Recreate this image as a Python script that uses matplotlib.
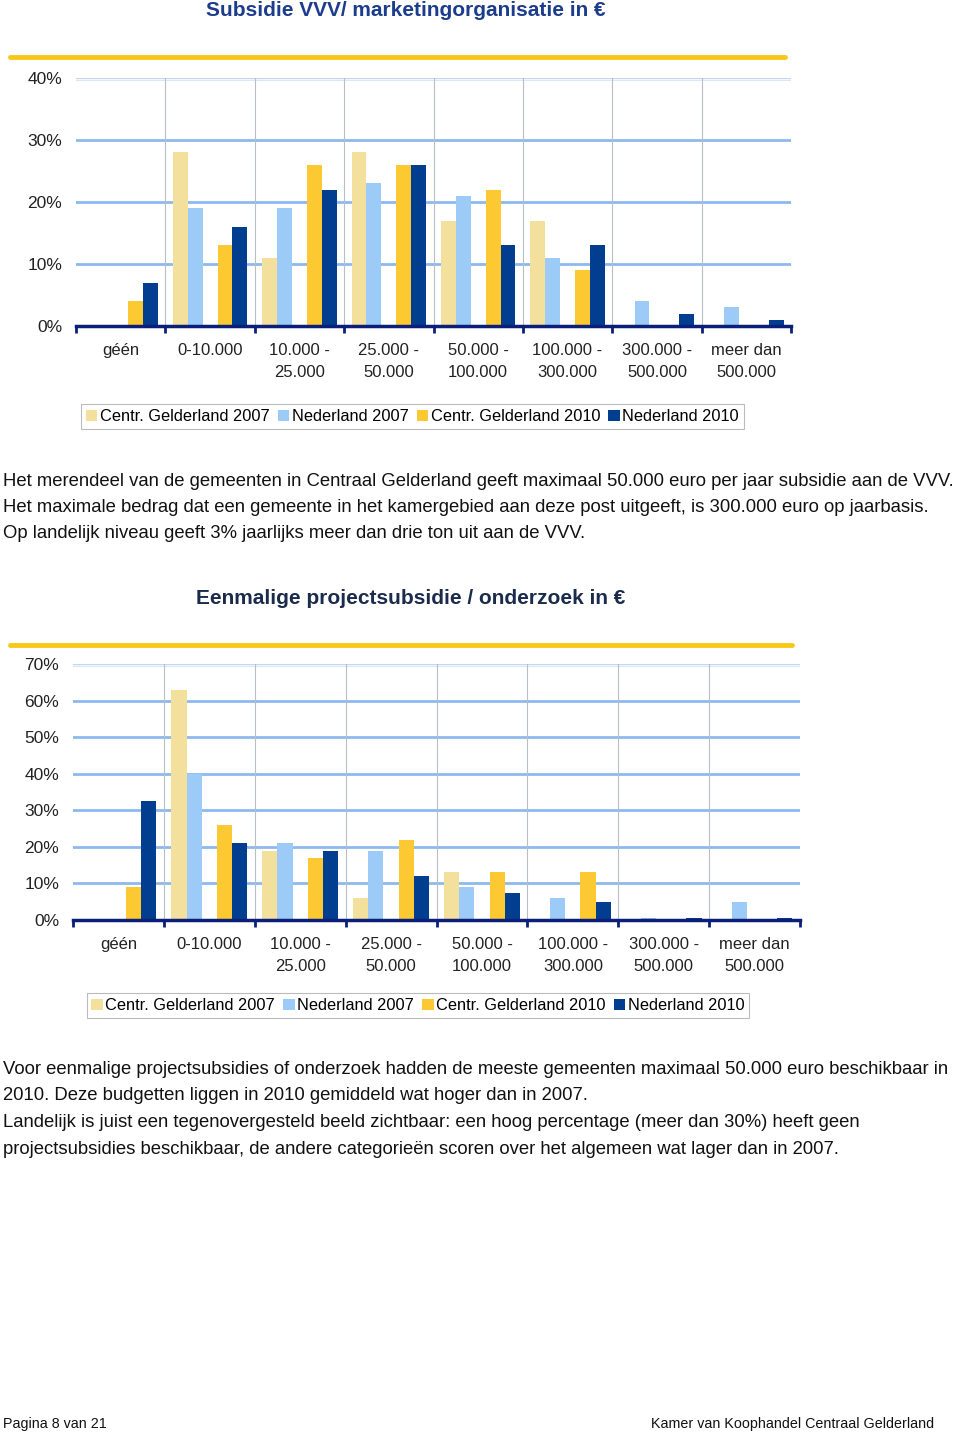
import matplotlib.pyplot as plt
import numpy as np
from matplotlib.patches import Patch

plt.rcParams['font.family'] = ['Liberation Sans', 'DejaVu Sans']

W, H = 960, 1435

categories = ['géén', '0-10.000', '10.000 -\n25.000', '25.000 -\n50.000',
              '50.000 -\n100.000', '100.000 -\n300.000', '300.000 -\n500.000',
              'meer dan\n500.000']
series = ['Centr. Gelderland 2007', 'Nederland 2007', 'Centr. Gelderland 2010', 'Nederland 2010']
colors = ['#F2E09C', '#9CCBF7', '#FDC933', '#023E8F']

# subsidie VVV (%)
vvv_cg07 = [0, 28, 11, 28, 17, 17, 0, 0]
vvv_nl07 = [0, 19, 19, 23, 21, 11, 4, 3]
vvv_cg10 = [4, 13, 26, 26, 22, 9, 0, 0]
vvv_nl10 = [7, 16, 22, 26, 13, 13, 2, 1]

# eenmalige projectsubsidie (%)
proj_cg07 = [0, 63, 19, 6, 13, 0, 0, 0]
proj_nl07 = [0, 40, 21, 19, 9, 6, 0.5, 5]
proj_cg10 = [9, 26, 17, 22, 13, 13, 0, 0]
proj_nl10 = [32.5, 21, 19, 12, 7.5, 5, 0.5, 0.5]

text1 = ["Het merendeel van de gemeenten in Centraal Gelderland geeft maximaal 50.000 euro per jaar subsidie aan de VVV.",
         "Het maximale bedrag dat een gemeente in het kamergebied aan deze post uitgeeft, is 300.000 euro op jaarbasis.",
         "Op landelijk niveau geeft 3% jaarlijks meer dan drie ton uit aan de VVV."]
text2 = ["Voor eenmalige projectsubsidies of onderzoek hadden de meeste gemeenten maximaal 50.000 euro beschikbaar in",
         "2010. Deze budgetten liggen in 2010 gemiddeld wat hoger dan in 2007.",
         "Landelijk is juist een tegenovergesteld beeld zichtbaar: een hoog percentage (meer dan 30%) heeft geen",
         "projectsubsidies beschikbaar, de andere categorieën scoren over het algemeen wat lager dan in 2007."]

fig = plt.figure(figsize=(W / 100, H / 100), dpi=100)


def px(x, y):
    return x / W, 1 - y / H


def chart(left, right, top, bottom, ymax, step, data, title, title_xy, title_color,
          line_y, line_x2, legend_box):
    ax = fig.add_axes([left / W, 1 - bottom / H, (right - left) / W, (bottom - top) / H])
    x = np.arange(len(categories))
    offs = [-2 / 6, -1 / 6, 1 / 6, 2 / 6]
    handles = []
    for vals, off, c, lab in zip(data, offs, colors, series):
        ax.bar(x + off, vals, width=1 / 6, color=c, zorder=3, linewidth=0)
        handles.append(Patch(facecolor=c, label=lab))
    ax.set_xlim(-0.5, len(categories) - 0.5)
    ax.set_ylim(0, ymax)
    ticks = np.arange(0, ymax + 0.1, step)
    ax.set_yticks(ticks)
    ax.set_yticklabels(['%d%%' % t for t in ticks], fontsize=12.5, color='#222222')
    for t in ticks[1:-1]:
        ax.axhline(t, color='#8DB9EC', lw=2, zorder=1)
    ax.axhline(ymax, color='#BFD7F2', lw=1, zorder=1)
    ax.axhline(ymax * 0.993, color='#D9E7F7', lw=0.8, zorder=1)
    for b in np.arange(0.5, len(categories) - 1):
        ax.axvline(b, color='#B8BEC8', lw=0.8, zorder=2)
    ax.set_xticks(np.arange(-0.5, len(categories)))
    ax.set_xticklabels([])
    ax.set_xticks(x, minor=True)
    ax.set_xticklabels(categories, minor=True, fontsize=12, color='#222222', linespacing=1.6)
    ax.tick_params(axis='x', which='major', length=5, width=2, color='#0B1F7A', direction='out')
    ax.tick_params(axis='x', which='minor', length=0, pad=12)
    ax.tick_params(axis='y', length=0, pad=10)
    for s in ['top', 'right', 'left']:
        ax.spines[s].set_visible(False)
    ax.spines['bottom'].set_color('#0B1F7A')
    ax.spines['bottom'].set_linewidth(2.5)
    ax.spines['bottom'].set_zorder(4)

    fig.text(*px(*title_xy), title, ha='center', va='center', fontsize=15,
             fontweight='bold', color=title_color)
    fig.add_artist(plt.Line2D([10 / W, line_x2 / W], [1 - line_y / H] * 2,
                              color='#F7C818', lw=3.5, solid_capstyle='round'))
    lx0, ly0, lx1, ly1 = legend_box
    leg = fig.legend(handles=handles, loc='center', ncol=4,
                     bbox_to_anchor=((lx0 + lx1) / 2 / W, 1 - (ly0 + ly1) / 2 / H),
                     fontsize=11.8, frameon=True, fancybox=False, edgecolor='#AAAAAA',
                     handlelength=0.7, handleheight=0.7, handletextpad=0.15,
                     columnspacing=0.5, borderpad=0.3, borderaxespad=0)
    leg.get_frame().set_linewidth(0.8)
    return ax


chart(76, 791, 78, 326, 40, 10, [vvv_cg07, vvv_nl07, vvv_cg10, vvv_nl10],
      'Subsidie VVV/ marketingorganisatie in €', (406, 11), '#1C3C8C',
      57, 785, (80, 403, 745, 430))

chart(73, 800, 664, 920, 70, 10, [proj_cg07, proj_nl07, proj_cg10, proj_nl10],
      'Eenmalige projectsubsidie / onderzoek in €', (411, 598), '#1A2B4C',
      645, 792, (85, 992, 751, 1019))

for i, line in enumerate(text1):
    fig.text(*px(3, 481 + i * 26.5), line, ha='left', va='center', fontsize=13.3, color='#111111')
for i, line in enumerate(text2):
    fig.text(*px(3, 1069 + i * 26.7), line, ha='left', va='center', fontsize=13.3, color='#111111')

fig.text(*px(3, 1424), 'Pagina 8 van 21', ha='left', va='center', fontsize=10.3,
         family=['Liberation Sans Narrow', 'Liberation Sans'], color='#111111')
fig.text(*px(934, 1424), 'Kamer van Koophandel Centraal Gelderland', ha='right', va='center',
         fontsize=10.3, family=['Liberation Sans Narrow', 'Liberation Sans'], color='#111111')

fig.savefig('out.png', dpi=100, facecolor='white')
